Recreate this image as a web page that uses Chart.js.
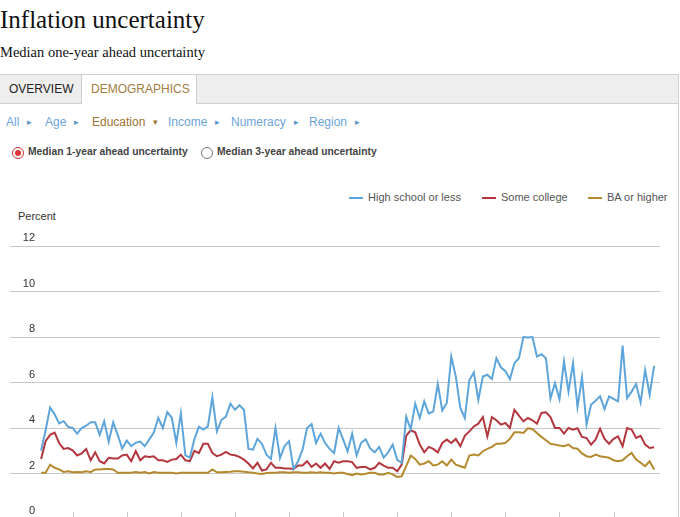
<!DOCTYPE html>
<html>
<head>
<meta charset="utf-8">
<script src="https://cdn.jsdelivr.net/npm/chart.js@4.4.1/dist/chart.umd.min.js"></script>
<style>
  html, body { margin: 0; padding: 0; background: #fff; width: 680px; height: 517px; overflow: hidden; }
  body { position: relative; font-family: "Liberation Sans", Arial, sans-serif; }
  .abs { position: absolute; white-space: nowrap; }
  #title { left: 0; top: 6px; font-family: "Liberation Serif", "DejaVu Serif", serif; font-size: 25px; color: #111; }
  #subtitle { left: 0; top: 44px; font-family: "Liberation Serif", "DejaVu Serif", serif; font-size: 14.5px; color: #111; }
  #panel { left: -1px; top: 74px; width: 678px; height: 460px; border: 1px solid #cfcfcf; }
  #tabbar { left: 0; top: 0; width: 678px; height: 28px; background: #eeeeee; border-bottom: 1px solid #cfcfcf; }
  .tab { top: 0; height: 28px; line-height: 29px; font-size: 12px; }
  #tab1 { left: 1px; width: 80px; color: #222; text-indent: 8px; }
  #tab2 { left: 81px; width: 114px; height: 29px; background: #fff; color: #a27d40; border-left: 1px solid #cfcfcf; border-right: 1px solid #cfcfcf; text-indent: 9px; }
  .nav { top: 115px; font-size: 12px; color: #6ea3d8; }
  .nav .ar { font-size: 9px; margin-left: 8px; position: relative; top: -1px; color: #5b93cc; }
  .nav.sel { color: #9c7433; }
  .nav.sel .ar { color: #9c7433; }
  .radio { top: 147px; width: 10px; height: 10px; border-radius: 50%; border: 1px solid #777; background: #fff; }
  .radio.on { border-color: #c33; }
  .radio.on::after { content: ""; position: absolute; left: 2px; top: 2px; width: 6px; height: 6px; border-radius: 50%; background: #d33; }
  .rlab { top: 146px; font-size: 10.3px; font-weight: bold; color: #444; }
  .leg { top: 191px; font-size: 11px; color: #555; }
  .sw { top: 197px; width: 14px; height: 2px; }
  #percent { left: 18px; top: 210px; font-size: 11px; color: #333; }
  #wrap { left: 0; top: 220px; width: 670px; height: 306px; }
</style>
</head>
<body>
<div class="abs" id="title">Inflation uncertainty</div>
<div class="abs" id="subtitle">Median one-year ahead uncertainty</div>

<div class="abs" id="panel">
  <div class="abs" id="tabbar"></div>
  <div class="abs tab" id="tab1">OVERVIEW</div>
  <div class="abs tab" id="tab2">DEMOGRAPHICS</div>
</div>

<div class="abs nav" style="left:6px">All<span class="ar">&#9656;</span></div>
<div class="abs nav" style="left:45px">Age<span class="ar">&#9656;</span></div>
<div class="abs nav sel" style="left:92px">Education<span class="ar">&#9662;</span></div>
<div class="abs nav" style="left:168px">Income<span class="ar">&#9656;</span></div>
<div class="abs nav" style="left:231px">Numeracy<span class="ar">&#9656;</span></div>
<div class="abs nav" style="left:309px">Region<span class="ar">&#9656;</span></div>

<div class="abs radio on" style="left:12px"></div>
<div class="abs rlab" style="left:28px">Median 1-year ahead uncertainty</div>
<div class="abs radio" style="left:201px"></div>
<div class="abs rlab" style="left:217px">Median 3-year ahead uncertainty</div>

<div class="abs sw" style="left:349px;background:#5da5da"></div>
<div class="abs leg" style="left:368px">High school or less</div>
<div class="abs sw" style="left:482px;background:#b2373e"></div>
<div class="abs leg" style="left:501px">Some college</div>
<div class="abs sw" style="left:588px;background:#b58a2e"></div>
<div class="abs leg" style="left:607px">BA or higher</div>

<div class="abs" id="percent">Percent</div>

<div class="abs" id="wrap"><canvas id="chart"></canvas></div>

<script>
  // monthly survey, June 2013 - Oct 2024
  const startYear = 2013
  const startMonth = 6

  const highSchool = [3.0, 3.9, 4.9, 4.6, 4.2, 4.3, 4.05, 4.0, 3.75, 4.0, 4.1, 4.25, 4.25, 3.7, 4.3, 3.4, 4.25, 3.7, 3.1, 3.45,
    3.2, 3.35, 3.4, 3.2, 3.5, 3.8, 4.45, 4.0, 4.7, 4.45, 3.35, 4.65, 2.8, 2.7, 3.5, 4.05, 3.93, 4.07, 5.35, 3.85,
    4.35, 4.5, 5.07, 4.8, 5.0, 4.8, 3.08, 3.05, 3.52, 3.3, 2.83, 2.64, 4.0, 2.68, 3.2, 3.42, 2.2, 2.54, 3.05, 4.0,
    4.17, 3.34, 3.75, 3.34, 3.08, 2.9, 4.0, 3.5, 2.97, 3.75, 2.8, 3.35, 3.5, 3.1, 2.93, 3.17, 2.7, 2.93, 3.27, 2.6,
    2.47, 4.5, 3.93, 5.07, 4.44, 5.17, 4.63, 4.73, 5.94, 4.77, 5.1, 7.14, 6.26, 4.88, 4.44, 6.1, 6.44, 5.24, 6.26, 6.34,
    6.15, 7.07, 6.67, 6.5, 6.15, 6.85, 7.07, 8.0, 7.98, 8.0, 7.14, 7.24, 7.07, 5.3, 5.97, 5.27, 6.92, 5.6, 6.85, 4.92,
    6.23, 4.15, 5.02, 5.2, 5.39, 4.83, 5.39, 5.28, 5.17, 7.62, 5.31, 5.6, 5.93, 5.12, 6.55, 5.46, 6.73]

  const someCollege = [2.64, 3.42, 3.7, 3.8, 3.34, 3.08, 3.12, 3.02, 2.79, 2.88, 3.08, 2.58, 2.93, 2.54, 2.44, 2.69, 2.66, 2.66, 2.79, 2.83,
    2.54, 2.98, 2.58, 2.76, 2.73, 2.76, 2.58, 2.58, 2.51, 2.61, 2.64, 2.83, 2.58, 2.54, 3.0, 2.9, 3.31, 3.31, 2.9, 2.76,
    2.83, 2.95, 2.83, 2.8, 2.73, 2.61, 2.44, 2.22, 2.47, 2.13, 2.18, 2.47, 2.25, 2.25, 2.22, 2.22, 2.2, 2.35, 2.35, 2.54,
    2.29, 2.44, 2.25, 2.44, 2.2, 2.54, 2.47, 2.54, 2.54, 2.5, 2.25, 2.29, 2.29, 2.18, 2.25, 2.47, 2.35, 2.25, 2.25, 2.1,
    2.39, 3.66, 3.9, 3.81, 3.27, 2.93, 3.17, 3.08, 2.93, 3.34, 3.49, 3.34, 3.52, 3.2, 3.66, 3.85, 4.07, 4.19, 4.48, 3.63,
    4.48, 4.34, 4.15, 4.22, 4.0, 4.8, 4.54, 4.29, 4.44, 4.34, 4.19, 4.66, 4.69, 4.48, 4.0, 4.0, 3.75, 4.0, 3.93, 3.99,
    3.61, 3.56, 3.27, 3.49, 3.97, 3.52, 3.31, 3.52, 3.63, 3.2, 4.0, 3.93, 3.56, 3.66, 3.27, 3.12, 3.15]

  const baOrHigher = [2.03, 2.03, 2.39, 2.25, 2.18, 2.07, 2.1, 2.06, 2.07, 2.06, 2.1, 2.06, 2.18, 2.18, 2.2, 2.2, 2.18, 2.03, 2.03, 2.03,
    2.03, 2.06, 2.03, 2.06, 2.0, 2.06, 2.03, 2.03, 2.03, 2.03, 2.0, 2.03, 2.03, 2.03, 2.03, 2.03, 2.03, 2.03, 2.18, 2.05,
    2.05, 2.07, 2.08, 2.1, 2.1, 2.08, 2.05, 2.03, 2.0, 1.98, 2.02, 2.03, 2.03, 2.05, 2.05, 2.03, 2.05, 2.05, 2.03, 2.03,
    2.05, 2.03, 2.05, 2.03, 2.03, 2.0, 2.03, 2.03, 1.98, 1.93, 2.0, 1.96, 1.99, 2.03, 2.03, 1.96, 1.96, 2.03, 1.96, 1.85,
    1.88, 2.32, 2.79, 2.64, 2.39, 2.44, 2.54, 2.35, 2.39, 2.54, 2.35, 2.61, 2.39, 2.32, 2.25, 2.79, 2.83, 2.79, 2.98, 3.08,
    3.17, 3.31, 3.31, 3.35, 3.52, 3.81, 3.81, 3.78, 3.99, 3.96, 3.78, 3.61, 3.46, 3.31, 3.27, 3.23, 3.2, 3.27, 3.12, 3.09,
    2.88, 2.76, 2.73, 2.83, 2.76, 2.73, 2.69, 2.58, 2.54, 2.58, 2.76, 2.9, 2.61, 2.47, 2.32, 2.54, 2.18]

  const yTicks = [0, 2, 4, 6, 8, 10, 12]

  // month labels, x values are month index
  const months = highSchool.map((_, i) => {
    const m = startMonth - 1 + i
    return (startYear + Math.floor(m / 12)) + '-' + String(m % 12 + 1).padStart(2, '0')
  })
  const januaries = months.map((m, i) => m.endsWith('-01') ? i : null).filter(i => i !== null)

  const toPoints = arr => arr.map((v, i) => ({ x: i, y: v }))

  // y labels sit above the gridlines, right aligned
  const yLabels = {
    id: 'yLabels',
    afterDraw(chart) {
      const c = chart.ctx
      const y = chart.scales.y
      c.save()
      c.font = '11px "Liberation Sans", Arial, sans-serif'
      c.fillStyle = '#333'
      c.textAlign = 'right'
      c.textBaseline = 'middle'
      for (const t of yTicks) {
        c.fillText(String(t), 35, y.getPixelForValue(t) - 8)
      }
      c.restore()
    }
  }

  // small year marks along the bottom
  const yearMarks = {
    id: 'yearMarks',
    afterDraw(chart) {
      const c = chart.ctx
      const x = chart.scales.x
      const bottom = chart.chartArea.bottom
      c.save()
      c.strokeStyle = '#c8c8c8'
      c.lineWidth = 1
      for (const i of januaries) {
        const px = Math.round(x.getPixelForValue(i)) + 0.5
        c.beginPath()
        c.moveTo(px, bottom - 7)
        c.lineTo(px, bottom + 6)
        c.stroke()
      }
      c.restore()
    }
  }

  const ctx = document.getElementById('chart').getContext('2d')

  new Chart(ctx, {
    type: 'line',
    data: {
      datasets: [{
        label: 'High school or less',
        data: toPoints(highSchool),
        borderColor: '#5da5da',
        borderWidth: 2
      }, {
        label: 'Some college',
        data: toPoints(someCollege),
        borderColor: '#b2373e',
        borderWidth: 2
      }, {
        label: 'BA or higher',
        data: toPoints(baOrHigher),
        borderColor: '#b58a2e',
        borderWidth: 2
      }]
    },
    options: {
      responsive: true,
      maintainAspectRatio: false,
      animation: false,
      layout: { padding: { top: 26, bottom: 7, left: 10, right: 10 } },
      elements: {
        point: { radius: 0 },
        line: { tension: 0 }
      },
      plugins: {
        legend: { display: false },
        tooltip: { enabled: false }
      },
      scales: {
        x: {
          type: 'linear',
          min: -6.9,
          max: 137.3,
          grid: { display: false, drawTicks: false },
          border: { display: false },
          ticks: { display: false }
        },
        y: {
          min: 0,
          max: 12,
          ticks: { display: false, stepSize: 2 },
          grid: { color: '#c8c8c8', lineWidth: 1, drawTicks: false },
          border: { display: false }
        }
      }
    },
    plugins: [yLabels, yearMarks]
  });
</script>
</body>
</html>
